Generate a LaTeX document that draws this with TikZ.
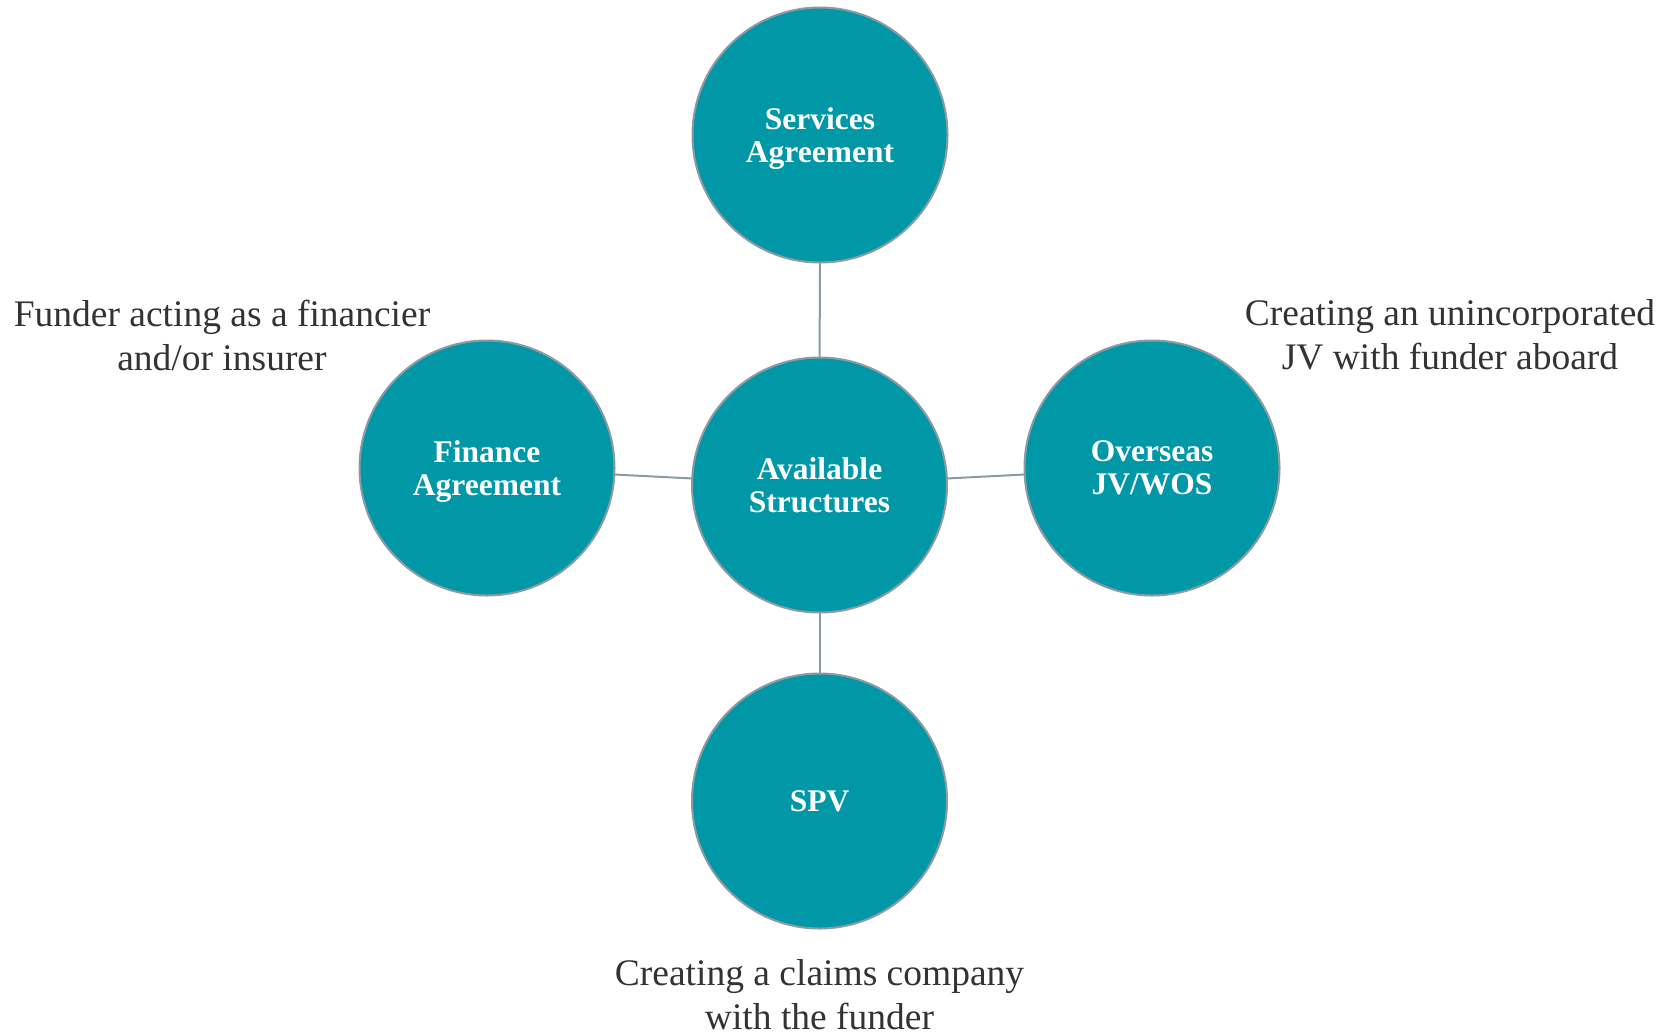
\documentclass[tikz,border=0pt]{standalone}
\usepackage{fontspec}
\setmainfont{Liberation Serif}
\definecolor{teal1}{HTML}{0097A7}
\definecolor{ring}{HTML}{8C9BA3}
\definecolor{txt}{HTML}{333333}
\newcommand\nodepth[1]{\raisebox{0pt}[\height][0pt]{#1}}
\tikzset{
  bubble/.style={circle, fill=teal1, draw=ring, line width=2pt, minimum size=255pt, inner sep=0pt,
    align=center, text=white, font=\fontsize{31.5}{33}\selectfont\bfseries},
  link/.style={draw=ring, line width=2pt},
  note/.style={align=center, text=txt, font=\fontsize{37.5}{44}\selectfont, inner sep=0pt}
}
\begin{document}
\begin{tikzpicture}[x=1pt,y=-1pt]
\useasboundingbox (0,0) rectangle (1675,1034);
\coordinate (cC) at (819.5,485);
\coordinate (cS) at (820,135);
\coordinate (cF) at (487,468);
\coordinate (cO) at (1152,468);
\coordinate (cP) at (819.5,801);
\draw[link] (cC) -- (cS);
\draw[link] (cC) -- (cF);
\draw[link] (cC) -- (cO);
\draw[link] (cC) -- (cP);
\node[bubble] (center) at (cC) {Available\\Structures};
\node[bubble] (services) at (cS) {Services\\\nodepth{Agreement}};
\node[bubble] (finance) at (cF) {Finance\\\nodepth{Agreement}};
\node[bubble] (overseas) at (cO) {Overseas\\JV/WOS};
\node[bubble] (spv) at (cP) {SPV};
\node[note] (n1) at (222,335) {Funder acting as a financier\\and/or insurer};
\node[note] (n2) at (1450,335) {Creating an unincorporated\\JV with funder aboard};
\node[note] (n3) at (819.5,995) {Creating a claims company\\with the funder};
\end{tikzpicture}
\end{document}
